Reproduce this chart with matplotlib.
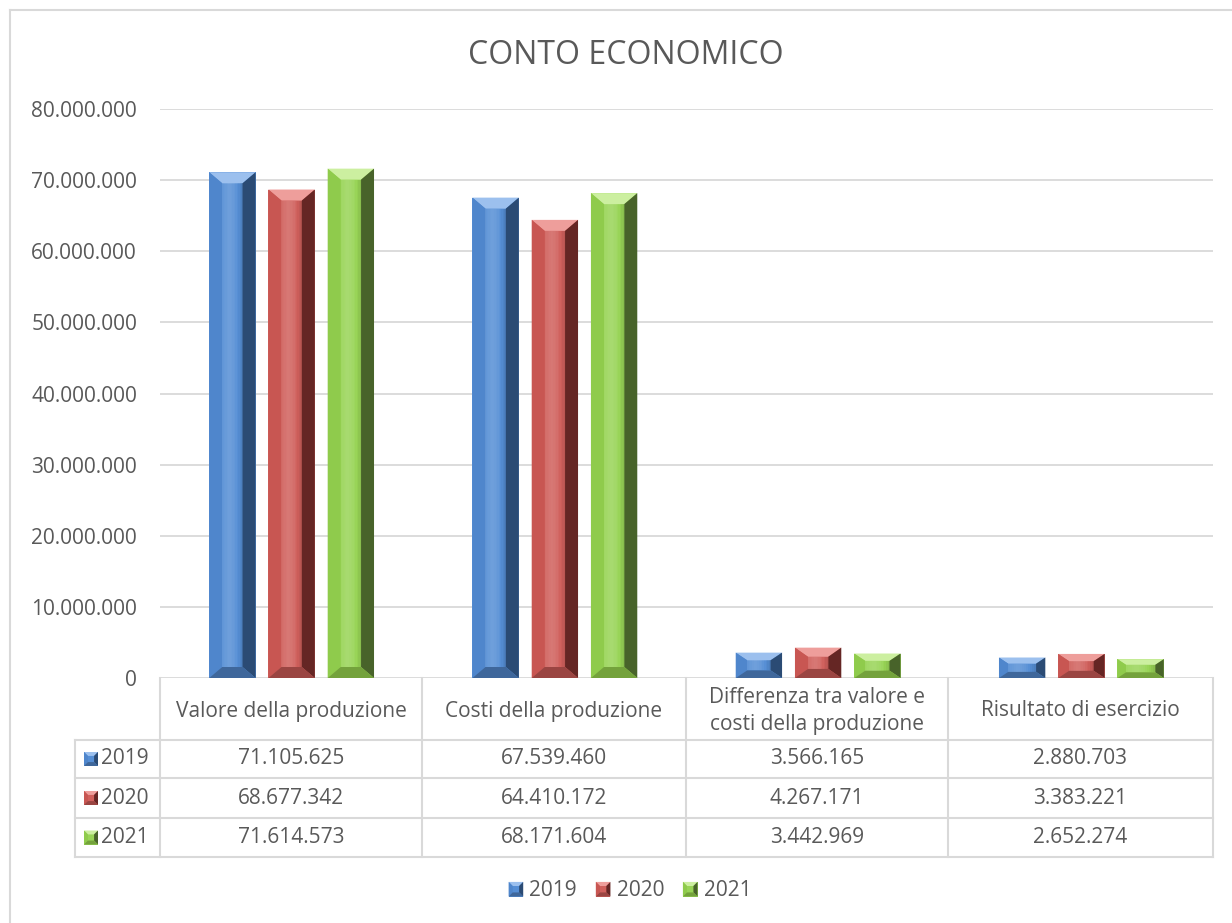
import numpy as np
import matplotlib
matplotlib.use("Agg")
import matplotlib.pyplot as plt
from matplotlib.patches import Polygon, Rectangle
from matplotlib.lines import Line2D
from matplotlib.legend_handler import HandlerBase

plt.rcParams['font.family'] = ['Open Sans', 'DejaVu Sans']

title = "CONTO ECONOMICO"
categories = ["Valore della produzione", "Costi della produzione",
              "Differenza tra valore e\ncosti della produzione", "Risultato di esercizio"]
years = ["2019", "2020", "2021"]
v2019 = [71105625, 67539460, 3566165, 2880703]
v2020 = [68677342, 64410172, 4267171, 3383221]
v2021 = [71614573, 68171604, 3442969, 2652274]
yticks = [0, 10000000, 20000000, 30000000, 40000000, 50000000, 60000000, 70000000, 80000000]

series = [v2019, v2020, v2021]
# (body, top, left, right, bottom)
palettes = [
    ("#558ED5", "#9CC0EE", "#4F86CC", "#2B4B74", "#3F679B"),
    ("#D0605C", "#EE9E9B", "#C85652", "#652624", "#9A4542"),
    ("#98D456", "#CCEFA0", "#8FCB4C", "#48632A", "#74A23C"),
]
TXT = "#595959"
GRID = "#D9D9D9"
FS = 15

W, H = 1232, 923
fig = plt.figure(figsize=(W / 100, H / 100), dpi=100)

def fx(px):
    return px / W

def fy(py):
    return 1 - py / H

L, R, T, B = 160, 1213, 109, 678
ax = fig.add_axes([fx(L), fy(B), fx(R) - fx(L), fy(T) - fy(B)])
ax.set_xlim(-0.5, len(categories) - 0.5)
ax.set_ylim(0, 80000000)
ax.set_yticks(yticks)
ax.set_yticklabels([f"{v:,}".replace(",", ".") for v in yticks], color=TXT, fontsize=FS)
ax.tick_params(axis='y', length=0, pad=16.5)
ax.set_xticks([])
for s in ax.spines.values():
    s.set_visible(False)
ax.grid(axis='y', color=GRID, linewidth=1.3)
ax.set_axisbelow(True)

offsets = [-0.225, 0.0, 0.225]
bw = 0.176
x = np.arange(len(categories))
containers = []
for k, (vals, pal) in enumerate(zip(series, palettes)):
    c = ax.bar(x + offsets[k], vals, width=bw, color=pal[0], edgecolor='none', zorder=2)
    containers.append(c)

fig.canvas.draw()
inv = ax.transData.inverted()

def bevel(x0, y0, x1, y1, pal, zorder, transform, big=True):
    """x0..y1 in display px; returns beveled-box polygons mapped by transform."""
    w = x1 - x0
    h = y1 - y0
    bx = min(13, w * 0.28, h * 0.45) if big else w * 0.28
    by = min(11, h * 0.3, w * 0.28) if big else h * 0.28
    ix0, ix1 = x0 + bx, x1 - bx
    iy0, iy1 = y0 + by, y1 - by
    def tr(pts):
        return transform(np.array(pts))
    body, top, left, right, bottom = pal
    polys = [
        ([(x0, y0), (x1, y0), (x1, y1), (x0, y1)], body),
        ([(x0, y1), (x1, y1), (ix1, iy1), (ix0, iy1)], top),
        ([(x0, y0), (ix0, iy0), (ix0, iy1), (x0, y1)], left),
        ([(x1, y0), (x1, y1), (ix1, iy1), (ix1, iy0)], right),
        ([(x0, y0), (x1, y0), (ix1, iy0), (ix0, iy0)], bottom),
    ]
    arts = []
    for pts, col in polys:
        arts.append(Polygon(tr(pts), closed=True, facecolor=col, edgecolor='none', zorder=zorder))
    if big:
        n = 14
        for i in range(n):
            t0 = i / n
            t1 = (i + 1) / n
            xa = ix0 + (ix1 - ix0) * t0
            xb = ix0 + (ix1 - ix0) * t1
            tm = (t0 + t1) / 2
            shade = 0.16 * (1 - abs(tm - 0.35) / 0.65) - 0.12 * max(0, tm - 0.6) / 0.4
            col = (1, 1, 1, shade) if shade > 0 else (0, 0, 0, -shade)
            arts.append(Polygon(tr([(xa, iy0), (xb, iy0), (xb, iy1), (xa, iy1)]), closed=True,
                                facecolor=col, edgecolor='none', zorder=zorder + 0.1))
    return arts

for c, pal in zip(containers, palettes):
    for p in c.patches:
        bb = p.get_window_extent()
        for a in bevel(bb.x0, bb.y0, bb.x1, bb.y1, pal, 3, inv.transform):
            ax.add_patch(a)
        p.set_visible(False)

# Title
fig.text(fx(626), fy(56), title, ha='center', va='center', fontsize=23, color=TXT)

# Outer chart border (top and left)
fig.add_artist(Line2D([fx(10), 1], [fy(10), fy(10)], color=GRID, linewidth=1.5))
fig.add_artist(Line2D([fx(10), fx(10)], [fy(10), 0], color=GRID, linewidth=1.5))

# Data table
cols = [L, 422, 686, 948, R]
rows = [B, 740, 778, 818, 857]
lab_left = 75
tl = dict(color=GRID, linewidth=1.5)
for xc in cols:
    fig.add_artist(Line2D([fx(xc), fx(xc)], [fy(rows[0]), fy(rows[-1])], **tl))
fig.add_artist(Line2D([fx(lab_left), fx(lab_left)], [fy(rows[1]), fy(rows[-1])], **tl))
for yr in rows[1:]:
    fig.add_artist(Line2D([fx(lab_left), fx(R)], [fy(yr), fy(yr)], **tl))

for j, cat in enumerate(categories):
    xc = (cols[j] + cols[j + 1]) / 2
    fig.text(fx(xc), fy(711), cat, ha='center', va='center',
             fontsize=FS, color=TXT, linespacing=1.4)

def fig_px_transform(pts):
    return pts / np.array([W, H])

for k, (vals, pal, yr) in enumerate(zip(series, palettes, years)):
    ymid = (rows[k + 1] + rows[k + 2]) / 2
    mx0, mx1 = 84, 98
    my0, my1 = H - (ymid + 7), H - (ymid - 7)
    for a in bevel(mx0, my0, mx1, my1, pal, 5, fig_px_transform, big=False):
        a.set_transform(fig.transFigure)
        fig.add_artist(a)
    fig.text(fx(101), fy(ymid), yr, ha='left', va='center', fontsize=FS, color=TXT)
    for j, v in enumerate(vals):
        xc = (cols[j] + cols[j + 1]) / 2
        fig.text(fx(xc), fy(ymid), f"{v:,}".replace(",", "."), ha='center', va='center',
                 fontsize=FS, color=TXT)

# Legend
class BevelHandler(HandlerBase):
    def __init__(self, pal):
        super().__init__()
        self.pal = pal
    def create_artists(self, legend, orig_handle, xdescent, ydescent, width, height, fontsize, trans):
        s = min(width, height)
        x0 = width - s - xdescent
        y0 = -ydescent + (height - s) / 2
        arts = bevel(x0, y0, x0 + s, y0 + s, self.pal, 5, lambda p: p, big=False)
        for a in arts:
            a.set_transform(trans)
        return arts

handles = [Rectangle((0, 0), 1, 1, color=p[0]) for p in palettes]
leg = fig.legend(handles, years, loc='center', bbox_to_anchor=(fx(630), fy(891)), ncol=3,
                 frameon=False, fontsize=FS, labelcolor=TXT, handlelength=0.7, handleheight=0.7,
                 handletextpad=0.3, columnspacing=0.9,
                 handler_map={h: BevelHandler(p) for h, p in zip(handles, palettes)})

fig.savefig("out.png", dpi=100, facecolor='white')
